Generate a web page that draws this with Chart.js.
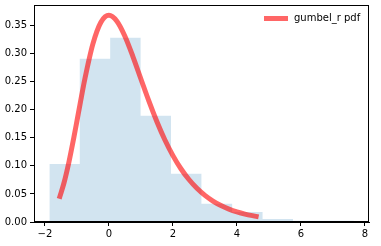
<!DOCTYPE html>
<html>
<head>
<meta charset="utf-8">
<script src="https://cdn.jsdelivr.net/npm/chart.js@4/dist/chart.umd.min.js"></script>
<style>
html,body{margin:0;padding:0;background:#fff;}
#wrap{width:381px;height:246px;position:relative;}
</style>
</head>
<body>
<div id="wrap"><canvas id="c" width="381" height="246"></canvas></div>
<script>
// Histogram bin edges and densities
const binEdges = [-1.86, -0.91, 0.04, 0.99, 1.94, 2.89, 3.85, 4.80, 5.75, 6.70, 7.65];
const binDensity = [0.1034, 0.2906, 0.328, 0.189, 0.086, 0.0326, 0.0178, 0.0053, 0.0021, 0.0021];

// gumbel_r pdf curve points
const pdfX = [-1.53, -1.4, -1.25, -1.1, -1.0, -0.9, -0.75, -0.5, -0.25, 0.0, 0.25, 0.5, 0.75, 1.0, 1.25, 1.5, 1.75, 2.0, 2.25, 2.5, 2.75, 3.0, 3.25, 3.5, 3.75, 4.0, 4.25, 4.6];
const pdfY = [0.0456, 0.0703, 0.1065, 0.1490, 0.1794, 0.2102, 0.2549, 0.3170, 0.3556, 0.3679, 0.3574, 0.3307, 0.2945, 0.2546, 0.2151, 0.1785, 0.1460, 0.1182, 0.0948, 0.0756, 0.0600, 0.0474, 0.0373, 0.0293, 0.0230, 0.0180, 0.0141, 0.0100];

const xTicks = [-2, 0, 2, 4, 6, 8];
const yTicks = [0, 0.05, 0.10, 0.15, 0.20, 0.25, 0.30, 0.35];
const legendLabel = 'gumbel_r pdf';

const histPoints = binDensity.map((d, i) => ({x: binEdges[i], y: d}));
histPoints.push({x: binEdges[binEdges.length - 1], y: binDensity[binDensity.length - 1]});
const pdfPoints = pdfX.map((x, i) => ({x: x, y: pdfY[i]}));

const FONT = {family: 'DejaVu Sans', size: 10};

const framePlugin = {
  id: 'frame',
  afterDraw(chart) {
    const {ctx, chartArea: a} = chart;
    ctx.save();
    ctx.strokeStyle = '#000';
    ctx.lineWidth = 1;
    ctx.strokeRect(a.left + 0.5, a.top + 0.5, a.right - a.left - 1, a.bottom - a.top - 1);
    // legend (no frame, upper right)
    const lx0 = a.right - 105, ly = a.top + 13.5;
    ctx.strokeStyle = 'rgba(255,0,0,0.6)';
    ctx.lineWidth = 5;
    ctx.lineCap = 'butt';
    ctx.beginPath();
    ctx.moveTo(lx0, ly);
    ctx.lineTo(lx0 + 24, ly);
    ctx.stroke();
    ctx.fillStyle = '#000';
    ctx.font = '10px "DejaVu Sans"';
    ctx.textBaseline = 'middle';
    ctx.textAlign = 'left';
    ctx.fillText(legendLabel, lx0 + 30, ly);
    ctx.restore();
  }
};

new Chart(document.getElementById('c'), {
  type: 'scatter',
  data: {
    datasets: [
      {
        label: legendLabel,
        data: pdfPoints,
        showLine: true,
        borderColor: 'rgba(255,0,0,0.6)',
        borderWidth: 5,
        borderCapStyle: 'square',
        borderJoinStyle: 'round',
        pointRadius: 0,
        cubicInterpolationMode: 'monotone',
        fill: false,
        order: 0
      },
      {
        label: 'hist',
        data: histPoints,
        showLine: true,
        stepped: 'before',
        borderWidth: 0,
        borderColor: 'rgba(0,0,0,0)',
        backgroundColor: 'rgba(31,119,180,0.2)',
        fill: 'origin',
        pointRadius: 0,
        order: 1
      }
    ]
  },
  options: {
    responsive: false,
    animation: false,
    layout: {padding: {left: 0, right: 12, top: 5, bottom: 0}},
    plugins: {legend: {display: false}, tooltip: {enabled: false}},
    scales: {
      x: {
        type: 'linear',
        min: -2.34,
        max: 8.125,
        afterBuildTicks(s) { s.ticks = xTicks.map(v => ({value: v})); },
        afterFit(s) { s.height = 24; s.paddingLeft = 0; s.paddingRight = 0; },
        grid: {drawOnChartArea: false, drawTicks: true, tickLength: 4, color: '#000', tickColor: '#000'},
        border: {display: true, color: '#000'},
        ticks: {font: FONT, color: '#000', padding: 2, maxRotation: 0,
          callback: v => (v < 0 ? '\u2212' + Math.abs(v) : String(v))}
      },
      y: {
        type: 'linear',
        min: 0,
        max: 0.3863,
        afterBuildTicks(s) { s.ticks = yTicks.map(v => ({value: v})); },
        afterFit(s) { s.width = 34; s.paddingTop = 0; s.paddingBottom = 0; },
        grid: {drawOnChartArea: false, drawTicks: true, tickLength: 4, color: '#000', tickColor: '#000'},
        border: {display: true, color: '#000'},
        ticks: {font: FONT, color: '#000', padding: 3, callback: v => v.toFixed(2)}
      }
    }
  },
  plugins: [framePlugin]
});
</script>
</body>
</html>
